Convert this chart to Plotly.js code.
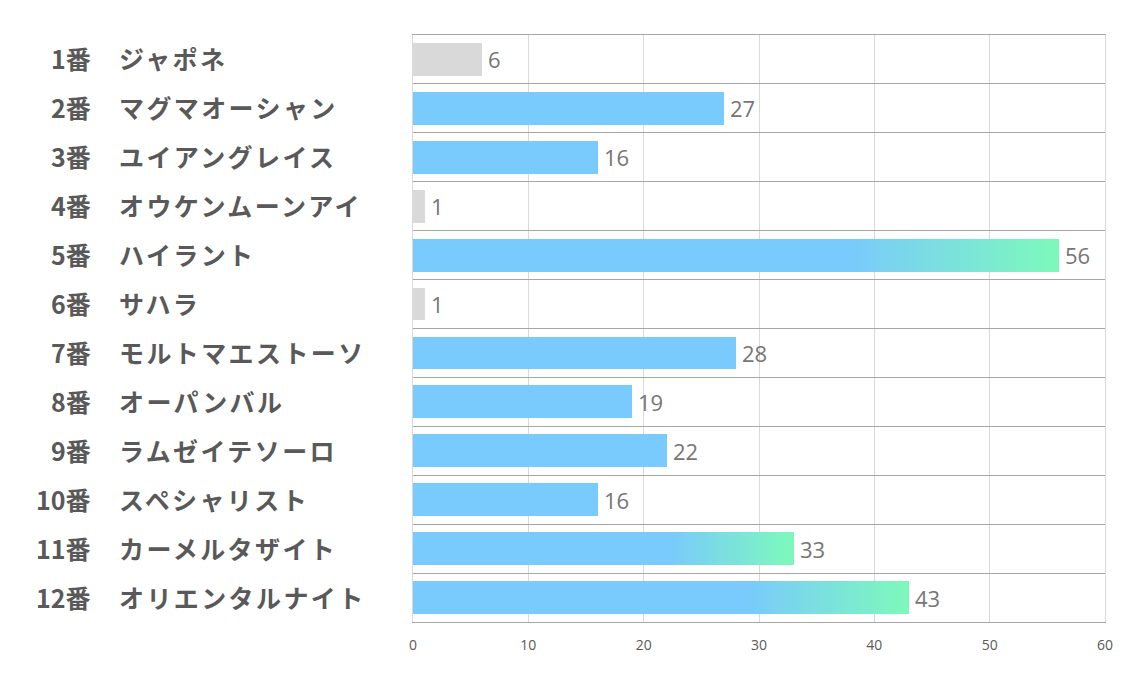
<!DOCTYPE html>
<html>
<head>
<meta charset="utf-8">
<script src="https://cdn.plot.ly/plotly-3.0.1.min.js"></script>
<style>
  html, body { margin: 0; padding: 0; background: #fff; }
  #chart { width: 1134px; height: 680px; }
</style>
</head>
<body>
<div id="chart"></div>
<script>
// horse numbers, names and vote counts, top to bottom
const numbers = ['1番', '2番', '3番', '4番', '5番', '6番', '7番', '8番', '9番', '10番', '11番', '12番'];
const horses = ['ジャポネ', 'マグマオーシャン', 'ユイアングレイス', 'オウケンムーンアイ', 'ハイラント', 'サハラ',
                'モルトマエストーソ', 'オーパンバル', 'ラムゼイテソーロ', 'スペシャリスト', 'カーメルタザイト', 'オリエンタルナイト'];
const votes = [6, 27, 16, 1, 56, 1, 28, 19, 22, 16, 33, 43];
const xTicks = [0, 10, 20, 30, 40, 50, 60];

const BLUE = [121, 202, 253];
const GREEN = [125, 249, 187];
const GREY = '#d9d9d9';
const FADE_START = 0.67;   // gradient starts at this share of the bar
const STEPS = 30;

function rgb(c) { return 'rgb(' + c.map(Math.round).join(',') + ')'; }
function mix(a, b, t) { return a.map((v, i) => v + (b[i] - v) * t); }

// bottom 3 are grey, top 3 fade to green
const sorted = [...votes].sort((a, b) => a - b);
const lowCut = sorted[2];
const highCut = sorted[sorted.length - 3];
const kind = votes.map(v => v <= lowCut ? 'low' : (v >= highCut ? 'top' : 'mid'));

const rows = votes.map((v, i) => i);
const BAR_W = 0.67;

let traces = [];
traces.push({
    type: 'bar', orientation: 'h',
    y: rows,
    x: votes.map((v, i) => kind[i] === 'top' ? v * FADE_START : v),
    width: BAR_W,
    marker: { color: kind.map(k => k === 'low' ? GREY : rgb(BLUE)), line: { width: 0 } },
    hoverinfo: 'skip'
});
for (let s = 0; s < STEPS; s++) {
    const c = rgb(mix(BLUE, GREEN, (s + 0.5) / STEPS));
    traces.push({
        type: 'bar', orientation: 'h',
        y: rows,
        x: votes.map((v, i) => kind[i] === 'top' ? v * (1 - FADE_START) / STEPS : 0),
        width: BAR_W,
        marker: { color: c, line: { width: 0 } },
        hoverinfo: 'skip'
    });
}

const labelFont = { family: 'Noto Sans CJK JP, sans-serif', size: 25, color: '#595959' };

let annotations = [];
votes.forEach((v, i) => {
    annotations.push({
        x: v, y: i, xref: 'x', yref: 'y',
        text: String(v), showarrow: false,
        xanchor: 'left', xshift: 4,
        font: { family: 'Open Sans, sans-serif', size: 22, color: '#767676' }
    });
    annotations.push({
        x: 0, y: i, xref: 'paper', yref: 'y',
        text: '<b>' + numbers[i] + '</b>', showarrow: false,
        xanchor: 'right', xshift: -320, yshift: 1,
        font: labelFont
    });
    annotations.push({
        x: 0, y: i, xref: 'paper', yref: 'y',
        text: '<b>' + horses[i] + '</b>', showarrow: false,
        xanchor: 'left', align: 'left', xshift: -296, yshift: 1,
        font: labelFont
    });
});

const bounds = votes.map((v, i) => i - 0.5).concat([votes.length - 0.5]);

const layout = {
    width: 1134, height: 680,
    margin: { l: 413, r: 29, t: 35, b: 58 },
    paper_bgcolor: '#ffffff', plot_bgcolor: '#ffffff',
    barmode: 'stack',
    showlegend: false,
    xaxis: {
        range: [0, 60],
        tickvals: xTicks,
        showgrid: true, gridcolor: '#d9d9d9', gridwidth: 1,
        zeroline: false,
        showline: true, mirror: true, linecolor: '#a6a6a6', linewidth: 1,
        ticks: 'outside', ticklen: 10, tickcolor: 'rgba(0,0,0,0)',
        tickfont: { family: 'Open Sans, sans-serif', size: 14, color: '#595959' }
    },
    yaxis: {
        range: [votes.length - 0.5, -0.5],
        tickvals: bounds,
        showticklabels: false,
        showgrid: true, gridcolor: '#a6a6a6', gridwidth: 1,
        zeroline: false,
        showline: true, mirror: true, linecolor: '#d9d9d9', linewidth: 1,
        ticks: ''
    },
    annotations: annotations
};

// names in the reference are set with wide letter spacing
function spaceNames() {
    document.querySelectorAll('#chart .annotation-text').forEach(t => {
        if (horses.includes(t.textContent)) t.style.letterSpacing = '2.4px';
    });
}

Plotly.newPlot('chart', traces, layout, { displayModeBar: false, staticPlot: true }).then(gd => {
    spaceNames();
    gd.on('plotly_afterplot', spaceNames);
});
</script>
</body>
</html>
